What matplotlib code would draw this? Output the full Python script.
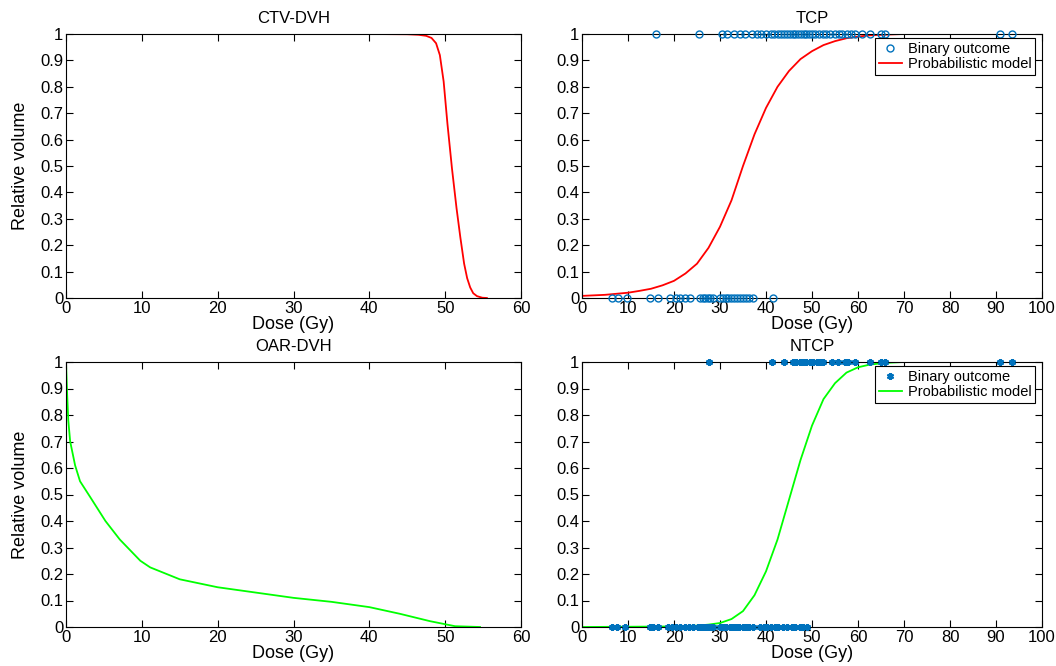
import matplotlib
matplotlib.use("Agg")
import matplotlib.pyplot as plt
import numpy as np

plt.rcParams['font.family'] = ['Liberation Sans', 'DejaVu Sans']

# ---- data ----
ctv_dose = [0, 40, 45, 46.5, 47.5, 48.2, 48.8, 49.3, 49.8, 50.3, 50.9, 51.5, 52.0, 52.5, 52.9, 53.3, 53.7, 54.2, 54.9, 55.5]
ctv_vol = [1, 1, 0.999, 0.997, 0.993, 0.985, 0.965, 0.92, 0.82, 0.66, 0.49, 0.34, 0.23, 0.13, 0.075, 0.04, 0.018, 0.007, 0.001, 0.0]

oar_dose = [0, 0.15, 0.3, 0.55, 1.2, 1.85, 3.2, 5.2, 7.1, 9.8, 11.1, 15.0, 20, 25, 30, 35, 40, 44, 48, 51.3, 54.6]
oar_vol = [1, 0.88, 0.78, 0.70, 0.61, 0.55, 0.49, 0.40, 0.33, 0.25, 0.225, 0.18, 0.15, 0.13, 0.11, 0.095, 0.075, 0.05, 0.022, 0.003, 0.0]

tcp_dose = [0, 2.5, 5, 7.5, 10, 12.5, 15, 17.5, 20, 22.5, 25, 27.5, 30, 32.5, 35, 37.5, 40, 42.5, 45,
            47.5, 50, 52.5, 55, 57.5, 60, 62.5, 65, 70, 100]
tcp_prob = [0.008, 0.01, 0.012, 0.016, 0.02, 0.027, 0.035, 0.048, 0.065, 0.093, 0.13, 0.19, 0.27, 0.37,
            0.50, 0.62, 0.72, 0.80, 0.86, 0.905, 0.935, 0.958, 0.973, 0.984, 0.99, 0.995, 0.997, 1.0, 1.0]

ntcp_dose = [0, 20, 25, 27.5, 30, 32.5, 35, 37.5, 40, 42.5, 45, 47.5, 50, 52.5, 55, 57.5, 60, 62.5, 65, 67.5, 70, 100]
ntcp_prob = [0.0, 0.002, 0.005, 0.009, 0.015, 0.03, 0.06, 0.12, 0.21, 0.33, 0.48, 0.63, 0.76, 0.86, 0.92,
             0.96, 0.98, 0.99, 0.995, 0.998, 1.0, 1.0]

tcp_pos_dose = [16, 25.5, 30.5, 31.5, 33, 34.3, 35.4, 36.9, 38, 39, 40, 41, 41.8, 42.5, 43.2, 44, 44.6, 45.2, 45.8,
                46.4, 47, 47.6, 48.2, 48.8, 49.4, 50, 50.7, 51.5, 52.3, 53, 54, 55, 55.8, 56.5, 57.5, 58.5,
                59.3, 60.8, 62.6, 65.1, 65.9, 90.9, 93.4]
tcp_neg_dose = [6.5, 7.9, 9.7, 14.8, 16.6, 19.1, 20.4, 21.3, 22.4, 23.5, 25.6, 26.2, 26.8, 27.3, 27.9, 28.5,
                30, 30.6, 31.2, 31.8, 32.4, 33, 33.7, 34.3, 35, 35.6, 36.3, 37.2, 41.5]
ntcp_pos_dose = [27.5, 41.4, 43.9, 45.9, 46.6, 47.3, 48, 48.8, 49.5, 50.3, 51, 51.7, 52.4, 54.3, 55.7,
                 57.2, 57.9, 59.3, 62.6, 65.1, 65.9, 90.9, 93.4]
ntcp_neg_dose = [6.5, 7.5, 9.3, 14.8, 15.5, 16.6, 18.8, 19.6, 20.4, 21.3, 22.4, 23.2, 24.1, 25.3, 25.9,
                 26.5, 27.1, 27.8, 28.5, 30, 30.7, 31.4, 32.1, 32.8, 33.5, 34.2, 35, 35.7, 36.4, 37.2,
                 38.7, 39.5, 40.3, 41.1, 41.9, 42.7, 43.6, 44.5, 45.6, 46.4, 47.3, 48.1, 48.9]

yticks = [0, 0.1, 0.2, 0.3, 0.4, 0.5, 0.6, 0.7, 0.8, 0.9, 1]
ytick_labels = ['0', '0.1', '0.2', '0.3', '0.4', '0.5', '0.6', '0.7', '0.8', '0.9', '1']

RED = '#FF0000'
GREEN = '#00FF00'
BLUE = '#0072BD'

W, H = 1056, 666
fig = plt.figure(figsize=(W / 100, H / 100), dpi=100)


def ax_at(x0, x1, y_top, y_bot):
    return fig.add_axes([x0 / W, 1 - y_bot / H, (x1 - x0) / W, (y_bot - y_top) / H])


def style(ax, xmax, xstep, title, ylabel=True):
    ax.set_xlim(0, xmax)
    ax.set_ylim(0, 1)
    ax.set_xticks(np.arange(0, xmax + 1, xstep))
    ax.set_yticks(yticks)
    ax.set_yticklabels(ytick_labels)
    ax.tick_params(direction='in', top=True, right=True, labelsize=12, length=5, width=0.8, pad=2)
    for s in ax.spines.values():
        s.set_linewidth(0.8)
    ax.set_title(title, fontsize=12, pad=8)
    ax.set_xlabel('Dose (Gy)', fontsize=13, labelpad=0)
    if ylabel:
        ax.set_ylabel('Relative volume', fontsize=13, labelpad=8)


def legend(ax):
    leg = ax.legend(loc='upper right', fontsize=10.5, frameon=True, fancybox=False, framealpha=1,
                    edgecolor='black', borderpad=0.25, labelspacing=0.12, handlelength=1.6,
                    handletextpad=0.4, borderaxespad=0.0, bbox_to_anchor=(0.985, 0.985))
    leg.get_frame().set_linewidth(0.8)


ax1 = ax_at(66, 521, 34, 298)
ax1.plot(ctv_dose, ctv_vol, color=RED, lw=1.3)
style(ax1, 60, 10, 'CTV-DVH')

ax3 = ax_at(66, 521, 362, 627)
ax3.plot(oar_dose, oar_vol, color=GREEN, lw=1.3)
style(ax3, 60, 10, 'OAR-DVH')

ax2 = ax_at(582, 1042, 34, 298)
ax2.plot(tcp_pos_dose + tcp_neg_dose, [1] * len(tcp_pos_dose) + [0] * len(tcp_neg_dose),
         linestyle='none', marker='o', markersize=5, markerfacecolor='none',
         markeredgecolor=BLUE, markeredgewidth=1.0, label='Binary outcome', clip_on=False, zorder=3)
ax2.plot(tcp_dose, tcp_prob, color=RED, lw=1.3, label='Probabilistic model')
style(ax2, 100, 10, 'TCP', ylabel=False)
legend(ax2)

ax4 = ax_at(582, 1042, 362, 627)
ax4.plot(ntcp_pos_dose + ntcp_neg_dose, [1] * len(ntcp_pos_dose) + [0] * len(ntcp_neg_dose),
         linestyle='none', marker=(6, 2, 0), markersize=5, markeredgecolor=BLUE,
         markeredgewidth=1.6, color=BLUE, label='Binary outcome', clip_on=False, zorder=3)
ax4.plot(ntcp_dose, ntcp_prob, color=GREEN, lw=1.3, label='Probabilistic model')
style(ax4, 100, 10, 'NTCP', ylabel=False)
legend(ax4)

fig.savefig('out.png', dpi=100)
